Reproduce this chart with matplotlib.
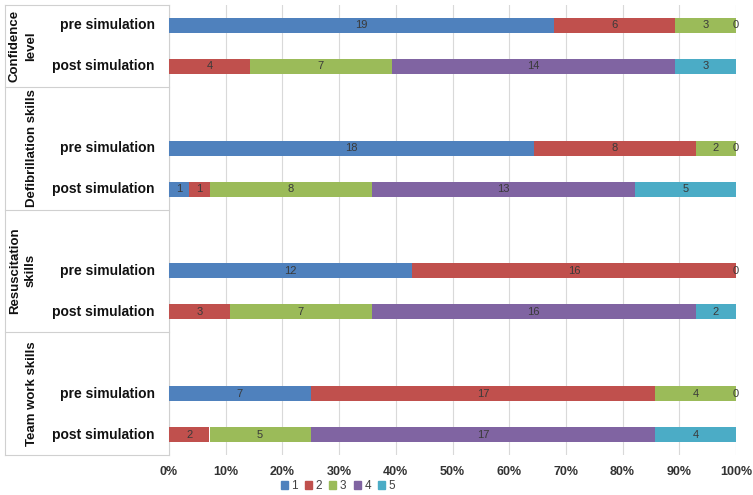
import numpy as np
import matplotlib.pyplot as plt
import matplotlib.transforms as mtransforms
from matplotlib.patches import Patch

plt.rcParams['font.family'] = ['Liberation Sans', 'DejaVu Sans']

# rows top to bottom
row_labels = ['pre simulation', 'post simulation'] * 4
groups = ['Confidence\nlevel', 'Defibrillation skills', 'Resuscitation\nskills', 'Team work skills']
series_names = ['1', '2', '3', '4', '5']
nan = np.nan
# nan = no segment, 0 = zero segment that still gets a label
s1 = [19, nan, 18, 1, 12, nan, 7, nan]
s2 = [6, 4, 8, 1, 16, 3, 17, 2]
s3 = [3, 7, 2, 8, 0, 7, 4, 5]
s4 = [0, 14, 0, 13, nan, 16, 0, 17]
s5 = [nan, 3, nan, 5, nan, 2, nan, 4]
series = [s1, s2, s3, s4, s5]
colors = ['#4F81BD', '#C0504D', '#9BBB59', '#8064A2', '#4BACC6']

ypos = np.array([0, 1, 3, 4, 6, 7, 9, 10])
vals = np.nan_to_num(np.array(series, dtype=float))
totals = vals.sum(axis=0)

fig = plt.figure(figsize=(7.53, 4.95), dpi=100)
ax = fig.add_axes([169 / 753, 1 - 455 / 495, (736 - 169) / 753, 450 / 495])

left = np.zeros(len(ypos))
for k, s in enumerate(series):
    pct = vals[k] / totals * 100
    ax.barh(ypos, pct, left=left, height=0.37, color=colors[k], zorder=3)
    for i in range(len(ypos)):
        if np.isnan(s[i]):
            continue
        ax.text(left[i] + pct[i] / 2, ypos[i], '%d' % s[i], ha='center', va='center',
                fontsize=8, color='#3a3a3a', zorder=4)
    left = left + pct

ax.set_xlim(0, 100)
ax.set_ylim(10.5, -0.5)
ax.set_xticks(np.arange(0, 101, 10))
ax.set_xticklabels(['%d%%' % t for t in range(0, 101, 10)], fontweight='bold', fontsize=9, color='#333333')
ax.set_yticks([])
ax.tick_params(axis='x', length=0, pad=8)
ax.grid(axis='x', color='#d9d9d9', lw=0.8, zorder=0)
for sp in ['top', 'right', 'bottom']:
    ax.spines[sp].set_visible(False)
ax.spines['left'].set_color('#d0d0d0')

# table on the left
trans = mtransforms.blended_transform_factory(fig.transFigure, ax.transData)
x0 = 5 / 753
for yb in [-0.5, 1.5, 4.5, 7.5, 10.5]:
    fig.add_artist(plt.Line2D([x0, 169 / 753], [yb, yb], transform=trans, color='#d0d0d0', lw=0.8))
fig.add_artist(plt.Line2D([x0, x0], [-0.5, 10.5], transform=trans, color='#d0d0d0', lw=0.8))

for lab, y in zip(row_labels, ypos):
    fig.text(155 / 753, y, lab, transform=trans, ha='right', va='center',
             fontsize=10, fontweight='bold', color='#111111')

for g, yc in zip(groups, [0.5, 3, 6, 9]):
    gx = 23 / 753 if '\n' in g else 32 / 753
    fig.text(gx, yc, g, transform=trans, rotation=90, ha='center', va='center',
             fontsize=9.5, fontweight='bold', color='#111111', linespacing=1.45)

handles = [Patch(color=c) for c in colors]
fig.legend(handles, series_names, loc='center', bbox_to_anchor=(338 / 753, 1 - 486 / 495),
           ncol=5, frameon=False, fontsize=8.5, handlelength=0.6, handleheight=0.6,
           handletextpad=0.3, columnspacing=0.6, labelcolor='#404040')

fig.savefig('out.png', dpi=100)
